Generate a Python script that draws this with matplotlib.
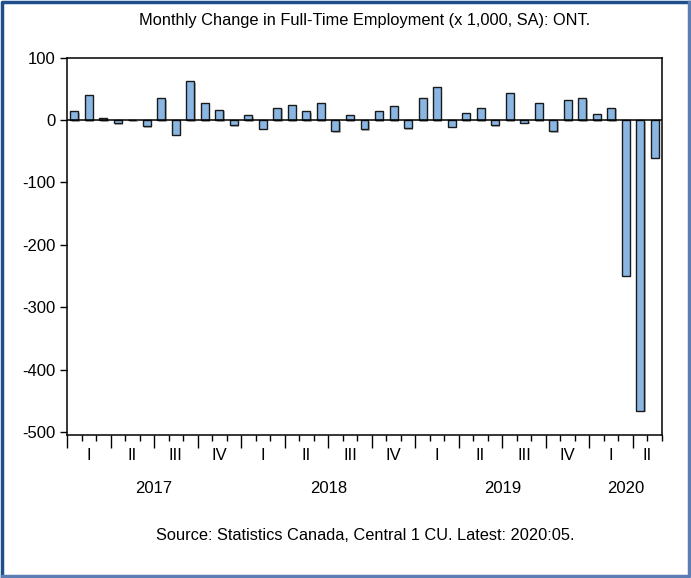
import numpy as np
import pandas as pd
import matplotlib
matplotlib.use("Agg")
from matplotlib import pyplot as plt
from matplotlib import patheffects as pe
from matplotlib.lines import Line2D
import matplotlib.transforms as mtransforms

plt.rcParams['font.family'] = ['Liberation Sans', 'DejaVu Sans']
plt.rcParams['axes.unicode_minus'] = False

# monthly change in full-time employment, thousands, Jan 2017 - May 2020
months = pd.period_range('2017-01', '2020-05', freq='M')
values = [14, 40, 4, -5, 1, -10, 35, -24, 62, 28, 17, -8,
          8, -14, 20, 25, 14, 28, -18, 8, -15, 15, 23, -13,
          36, 53, -11, 11, 20, -8, 43, -4, 28, -18, 32, 35,
          10, 20, -250, -466, -60]
quarter_names = ['I', 'II', 'III', 'IV']
y_ticks = [100, 0, -100, -200, -300, -400, -500]

title = "Monthly Change in Full-Time Employment (x 1,000, SA): ONT."
source = "Source: Statistics Canada, Central 1 CU. Latest: 2020:05."

fig = plt.figure(figsize=(6.91, 5.78), dpi=100)
ax = fig.add_axes([0.097, 0.2474, 0.861, 0.6526])

x = np.arange(len(values))
bars = ax.bar(x, values, width=0.55, color='#8AB6E4', edgecolor='#1a1a1a',
              linewidth=1.0, zorder=3)
for b in bars:
    b.set_path_effects([pe.SimplePatchShadow(offset=(1, -1), shadow_rgbFace='#888888', alpha=0.6),
                        pe.Normal()])

ax.axhline(0, color='black', linewidth=1.1, zorder=4)
ax.set_xlim(-0.5, len(values) - 0.5)
ax.set_ylim(-505, 100)
ax.set_yticks(y_ticks)
ax.set_yticklabels([str(v) for v in y_ticks], fontsize=12)
ax.tick_params(axis='y', direction='out', length=5, width=1, pad=3, right=False)

# month boundaries as minor ticks, quarter boundaries as major ticks
bounds = np.arange(len(values) + 1) - 0.5
q_bounds = [b for i, b in zip(range(len(bounds)), bounds) if i % 3 == 0]
ax.set_xticks(q_bounds)
ax.set_xticklabels([])
ax.set_xticks(bounds, minor=True)
ax.tick_params(axis='x', which='major', direction='out', length=9, width=1, top=False)
ax.tick_params(axis='x', which='minor', direction='out', length=4, width=1, top=False)

for s in ax.spines.values():
    s.set_linewidth(1.1)

trans = mtransforms.blended_transform_factory(ax.transData, ax.transAxes)
df = pd.DataFrame({'year': months.year, 'q': months.quarter, 'i': x})
for (yr, q), g in df.groupby(['year', 'q']):
    ax.text(g['i'].mean(), -0.055, quarter_names[q - 1], transform=trans,
            ha='center', va='center', fontsize=12)
for yr, g in df.groupby('year'):
    ax.text((g['i'].min() + g['i'].max()) / 2, -0.143, str(yr), transform=trans,
            ha='center', va='center', fontsize=12)

fig.text(0.528, 0.965, title, ha='center', va='center', fontsize=11.8)
fig.text(0.528, 0.074, source, ha='center', va='center', fontsize=11.8)

# outer frame
fig.add_artist(Line2D([0.003, 0.003, 0.997], [0.003, 0.997, 0.997], transform=fig.transFigure,
                      color='#1F4E8C', linewidth=2.5))
fig.add_artist(Line2D([0.003, 0.997, 0.997], [0.003, 0.003, 0.997], transform=fig.transFigure,
                      color='#5B7DB3', linewidth=2.5))

fig.savefig('out.png', dpi=100)
